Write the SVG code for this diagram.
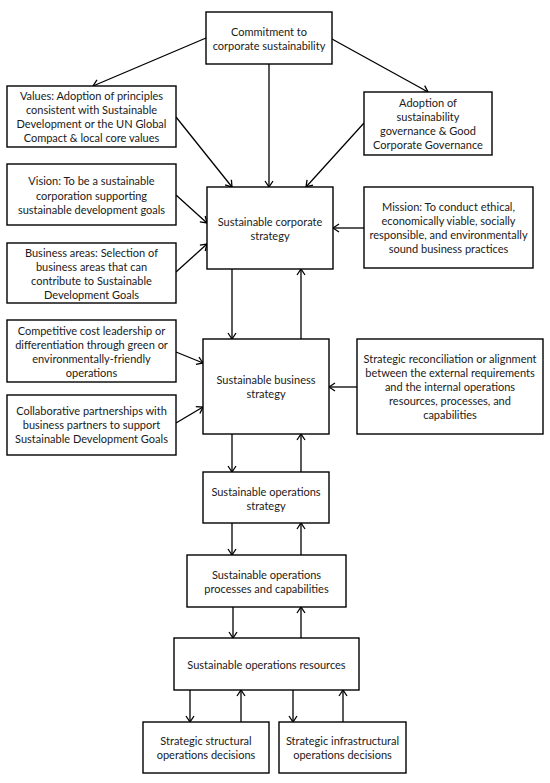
<svg xmlns="http://www.w3.org/2000/svg" width="550" height="783" viewBox="0 0 550 783">
<style>
.b{fill:#fff;stroke:#000;stroke-width:1.4}
.t{font-family:Lato,"Liberation Sans",sans-serif;font-size:11px;fill:#1a1a1a;text-anchor:middle}
.c line{stroke:#000;stroke-width:1.3;marker-end:url(#ah)}
</style>
<defs>
<marker id="ah" viewBox="-8 -5 9 10" refX="0" refY="0" markerWidth="9" markerHeight="10" markerUnits="userSpaceOnUse" orient="auto">
<path d="M-6,-4 L0,0 L-6,4" fill="none" stroke="#000" stroke-width="1.3"/>
</marker>
</defs>
<rect width="550" height="783" fill="#fff"/>
<g class="c" id="connectors">
<line x1="206" y1="38" x2="93" y2="86"/>
<line x1="269" y1="64" x2="269" y2="187"/>
<line x1="332" y1="39" x2="428" y2="92"/>
<line x1="176" y1="117" x2="232" y2="187"/>
<line x1="364" y1="123" x2="306" y2="187"/>
<line x1="176" y1="195" x2="207" y2="223"/>
<line x1="176" y1="272" x2="207" y2="244"/>
<line x1="364" y1="228" x2="333" y2="228"/>
<line x1="232" y1="269" x2="232" y2="339"/>
<line x1="301" y1="339" x2="301" y2="269"/>
<line x1="176" y1="352" x2="203" y2="363"/>
<line x1="176" y1="423" x2="203" y2="407"/>
<line x1="357" y1="387" x2="329" y2="387"/>
<line x1="232" y1="434" x2="232" y2="472"/>
<line x1="301" y1="472" x2="301" y2="434"/>
<line x1="232" y1="523" x2="232" y2="555"/>
<line x1="301" y1="555" x2="301" y2="523"/>
<line x1="233" y1="607" x2="233" y2="638"/>
<line x1="301" y1="638" x2="301" y2="607"/>
<line x1="190" y1="690" x2="190" y2="722"/>
<line x1="241" y1="722" x2="241" y2="690"/>
<line x1="293" y1="690" x2="293" y2="722"/>
<line x1="343" y1="722" x2="343" y2="690"/>
</g>
<g id="commitment"><rect class="b" x="206" y="12" width="126" height="52"/>
<text class="t" x="269" y="36">Commitment to</text><text class="t" x="269" y="50">corporate sustainability</text></g>
<g id="values"><rect class="b" x="7" y="86" width="169" height="61"/>
<text class="t" x="91.5" y="100">Values: Adoption of principles</text><text class="t" x="91.5" y="114">consistent with Sustainable</text><text class="t" x="91.5" y="128">Development or the UN Global</text><text class="t" x="91.5" y="142">Compact &amp; local core values</text></g>
<g id="adoption"><rect class="b" x="364" y="92" width="128" height="63"/>
<text class="t" x="428" y="107">Adoption of</text><text class="t" x="428" y="121">sustainability</text><text class="t" x="428" y="135">governance &amp; Good</text><text class="t" x="428" y="149">Corporate Governance</text></g>
<g id="vision"><rect class="b" x="7" y="164" width="169" height="61"/>
<text class="t" x="91.5" y="185">Vision: To be a sustainable</text><text class="t" x="91.5" y="200">corporation supporting</text><text class="t" x="91.5" y="214">sustainable development goals</text></g>
<g id="business-areas"><rect class="b" x="7" y="243" width="169" height="60"/>
<text class="t" x="91.5" y="257">Business areas: Selection of</text><text class="t" x="91.5" y="271">business areas that can</text><text class="t" x="91.5" y="285">contribute to Sustainable</text><text class="t" x="91.5" y="299">Development Goals</text></g>
<g id="corporate-strategy"><rect class="b" x="207" y="187" width="126" height="82"/>
<text class="t" x="270" y="226">Sustainable corporate</text><text class="t" x="270" y="240">strategy</text></g>
<g id="mission"><rect class="b" x="364" y="187" width="169" height="81"/>
<text class="t" x="448.5" y="211">Mission: To conduct ethical,</text><text class="t" x="448.5" y="225">economically viable, socially</text><text class="t" x="448.5" y="239">responsible, and environmentally</text><text class="t" x="448.5" y="253">sound business practices</text></g>
<g id="competitive"><rect class="b" x="7" y="320" width="169" height="62"/>
<text class="t" x="91.5" y="335">Competitive cost leadership or</text><text class="t" x="91.5" y="349">differentiation through green or</text><text class="t" x="91.5" y="363">environmentally-friendly</text><text class="t" x="91.5" y="377">operations</text></g>
<g id="collaborative"><rect class="b" x="7" y="395" width="169" height="60"/>
<text class="t" x="91.5" y="415">Collaborative partnerships with</text><text class="t" x="91.5" y="429">business partners to support</text><text class="t" x="91.5" y="443">Sustainable Development Goals</text></g>
<g id="business-strategy"><rect class="b" x="203" y="339" width="126" height="95"/>
<text class="t" x="266" y="384">Sustainable business</text><text class="t" x="266" y="398">strategy</text></g>
<g id="reconciliation"><rect class="b" x="357" y="339" width="186" height="95"/>
<text class="t" x="450" y="363">Strategic reconciliation or alignment</text><text class="t" x="450" y="377">between the external requirements</text><text class="t" x="450" y="391">and the internal operations</text><text class="t" x="450" y="405">resources, processes, and</text><text class="t" x="450" y="419">capabilities</text></g>
<g id="ops-strategy"><rect class="b" x="203" y="472" width="126" height="51"/>
<text class="t" x="266" y="496">Sustainable operations</text><text class="t" x="266" y="510">strategy</text></g>
<g id="ops-processes"><rect class="b" x="187" y="555" width="159" height="52"/>
<text class="t" x="266.5" y="579">Sustainable operations</text><text class="t" x="266.5" y="593">processes and capabilities</text></g>
<g id="ops-resources"><rect class="b" x="174" y="638" width="185" height="52"/>
<text class="t" x="266.5" y="669">Sustainable operations resources</text></g>
<g id="structural"><rect class="b" x="143" y="722" width="126" height="51"/>
<text class="t" x="206" y="745">Strategic structural</text><text class="t" x="206" y="759">operations decisions</text></g>
<g id="infrastructural"><rect class="b" x="279" y="722" width="127" height="51"/>
<text class="t" x="342.5" y="745">Strategic infrastructural</text><text class="t" x="342.5" y="759">operations decisions</text></g>
</svg>
